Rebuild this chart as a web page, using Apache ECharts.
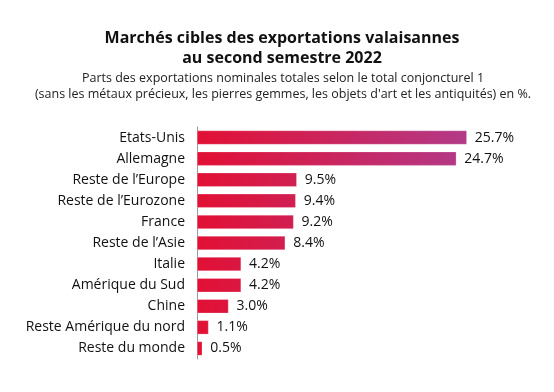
<!DOCTYPE html>
<html><head><meta charset="utf-8">
<script src="https://cdn.jsdelivr.net/npm/echarts@6/dist/echarts.min.js"></script>
<style>html,body{margin:0;padding:0;background:#fff}#c{width:554px;height:392px}</style>
</head><body><div id="c"></div>
<script>
const categories = ["Etats-Unis","Allemagne","Reste de l\u2019Europe","Reste de l\u2019Eurozone","France","Reste de l\u2019Asie","Italie","Am\u00e9rique du Sud","Chine","Reste Am\u00e9rique du nord","Reste du monde"];
const values = [25.7,24.7,9.5,9.4,9.2,8.4,4.2,4.2,3.0,1.1,0.5];
const titleText = "March\u00e9s cibles des exportations valaisannes\nau second semestre 2022";
const subText = "Parts des exportations nominales totales selon le total conjoncturel 1\n(sans les m\u00e9taux pr\u00e9cieux, les pierres gemmes, les objets d'art et les antiquit\u00e9s) en %.";

const startC = [226, 16, 52];
const endC = [178, 58, 136];
const vmax = Math.max(...values);
function mix(t){ return 'rgb(' + startC.map((s,i)=>Math.round(s+(endC[i]-s)*t)).join(',') + ')'; }
const data = values.map(v => ({
  value: v,
  itemStyle: { color: new echarts.graphic.LinearGradient(0,0,1,0,[{offset:0,color:mix(0)},{offset:1,color:mix(v/vmax)}]) }
}));

const FF = 'Open Sans';
const chart = echarts.init(document.getElementById('c'), null, {renderer:'canvas'});
chart.setOption({
  animation:false,
  title:[{
    text: titleText, left: 277, textAlign:'center', top: 23,
    textStyle:{fontFamily:FF, fontWeight:'bold', fontSize:16, color:'#111', lineHeight:20.5}
  },{
    text: subText, left: 278, textAlign:'center', top: 66,
    textStyle:{fontFamily:FF, fontWeight:'normal', fontSize:12.5, color:'#222', lineHeight:15.5}
  }],
  grid:{left:197, top:127, width:315, height:232, containLabel:false},
  xAxis:{type:'value', min:0, max:30, show:false},
  yAxis:{type:'category', data:categories, inverse:true,
    axisLine:{show:true, lineStyle:{color:'#999', width:1}},
    axisTick:{show:false},
    axisLabel:{fontFamily:FF, fontSize:14, color:'#111', margin:12}
  },
  series:[{type:'bar', data:data, barWidth:14,
    itemStyle:{borderColor:'rgba(255,255,255,0.5)', borderWidth:0.5},
    label:{show:true, position:'right', distance:8, formatter: p => p.value.toFixed(1)+'%',
      fontFamily:FF, fontSize:14, color:'#111'}
  }]
});
</script></body></html>
